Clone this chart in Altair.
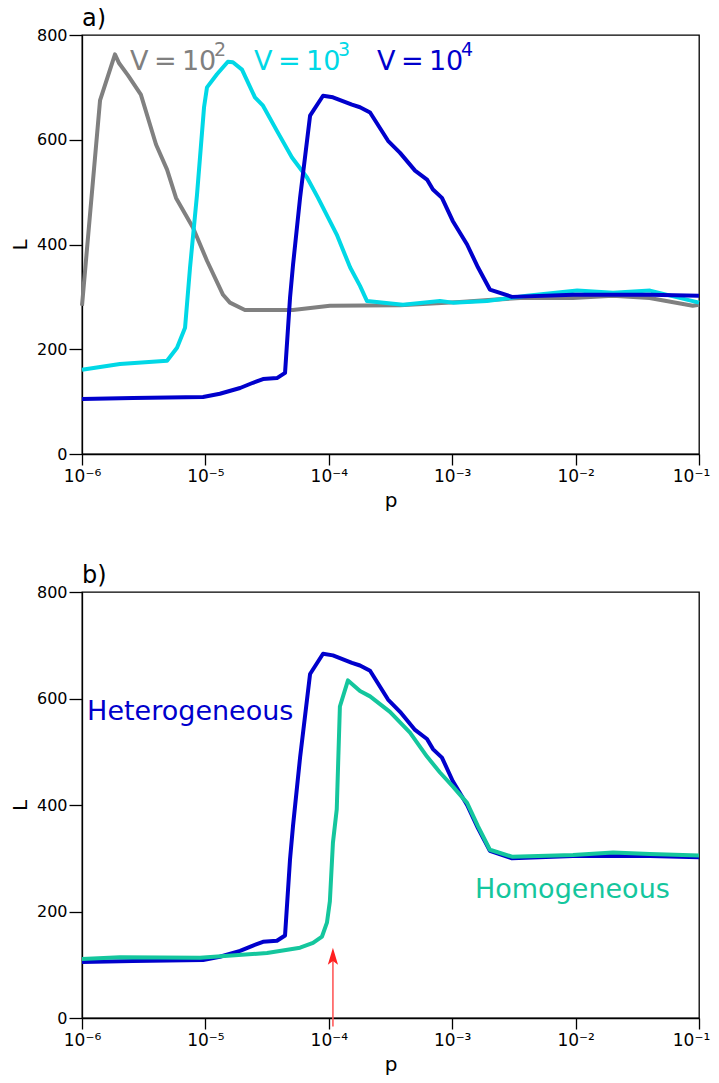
import altair as alt
import pandas as pd

FONT = "DejaVu Sans"

# ---------------- panel a) ----------------
v2_p = [1.0e-6, 1.4e-6, 1.85e-6, 2.0e-6, 2.36e-6, 3.0e-6, 3.98e-6, 4.89e-6, 5.78e-6,
        7.94e-6, 1.03e-5, 1.39e-5, 1.58e-5, 2.09e-5, 5.13e-5, 1.02e-4, 3.78e-4,
        1.15e-3, 3.55e-3, 9.55e-3, 2.0e-2, 3.98e-2, 8.9e-2, 1.0e-1]
v2_L = [283, 675, 763, 746, 723, 686, 591, 543, 489,
        432, 369, 304, 289, 275, 275, 283, 284,
        290, 298, 298, 302, 298, 283, 285]

v3_p = [1.0e-6, 2.03e-6, 4.89e-6, 5.89e-6, 6.84e-6, 7.5e-6, 8.55e-6, 9.75e-6, 1.03e-5,
        1.24e-5, 1.52e-5, 1.67e-5, 1.98e-5, 2.52e-5, 2.93e-5, 3.80e-5, 5.03e-5,
        6.66e-5, 8.18e-5, 1.16e-4, 1.49e-4, 1.79e-4, 2.04e-4, 3.99e-4, 7.96e-4,
        1.01e-3, 1.91e-3, 4.04e-3, 1.03e-2, 2.01e-2, 4.01e-2, 1.0e-1]
v3_L = [161, 172, 178, 203, 241, 355, 495, 662, 700,
        725, 749, 748, 734, 681, 665, 617, 566,
        528, 489, 419, 356, 321, 292, 285, 292,
        289, 292, 302, 312, 308, 312, 289]

v4_p = [1.0e-6, 2.59e-6, 9.57e-6, 1.31e-5, 1.91e-5, 2.43e-5, 2.93e-5, 3.80e-5, 4.42e-5,
        4.85e-5, 5.13e-5, 5.85e-5, 7.05e-5, 8.98e-5, 1.08e-4, 1.54e-4, 1.79e-4,
        2.16e-4, 3.02e-4, 3.78e-4, 5.00e-4, 6.25e-4, 6.98e-4, 8.26e-4, 1.01e-3,
        1.32e-3, 1.62e-3, 2.02e-3, 3.05e-3, 9.53e-3, 4.01e-2, 1.0e-1]
v4_L = [105, 107, 109, 115, 126, 136, 143, 145, 155,
        298, 361, 489, 646, 684, 681, 667, 662,
        652, 598, 575, 541, 524, 505, 489, 445,
        400, 356, 314, 300, 304, 304, 302]

# ---------------- panel b) ----------------
het_p = v4_p
het_L = v4_L

hom_p = [1.0e-6, 2.03e-6, 9.04e-6, 3.16e-5, 5.85e-5, 7.45e-5, 8.81e-5, 9.66e-5, 1.02e-4,
         1.08e-4, 1.16e-4, 1.23e-4, 1.43e-4, 1.79e-4, 2.16e-4, 3.13e-4, 4.55e-4,
         6.25e-4, 7.96e-4, 1.01e-3, 1.32e-3, 1.62e-3, 2.02e-3, 3.05e-3, 9.53e-3,
         2.01e-2, 4.0e-2, 1.0e-1]
hom_L = [111, 114, 113, 122, 132, 141, 153, 179, 219,
         329, 392, 585, 634, 614, 604, 575, 536,
         491, 461, 435, 404, 360, 316, 303, 306,
         311, 308, 305]

# axis ticks
x_ticks = [1e-6, 1e-5, 1e-4, 1e-3, 1e-2, 1e-1]
x_tick_labels = ["10⁻⁶", "10⁻⁵", "10⁻⁴", "10⁻³", "10⁻²", "10⁻¹"]
y_ticks = [0, 200, 400, 600, 800]

# series labels (panel a)
lab_series = ["V2", "V3", "V4"]
lab_text = ["V\u2009=\u200910", "V\u2009=\u200910", "V\u2009=\u200910"]
lab_sup = ["2", "3", "4"]
lab_p = [2.45e-6, 2.48e-5, 2.46e-4]
lab_L = [734, 734, 734]

# panel b labels
b_lab_series = ["Heterogeneous", "Homogeneous"]
b_lab_p = [1.1e-6, 1.53e-3]
b_lab_L = [560, 226]

# arrow (panel b)
arrow_p = [1.08e-4]
arrow_L0 = [-16]
arrow_L1 = [112]
arrow_head_L = [116]

panel_tags = ["a)", "b)"]

GRAY, CYAN, BLUE, GREEN, RED = "#808080", "#00d8e6", "#0000cc", "#14c69d", "#ff2020"

label_expr = "[" + ",".join("'%s'" % t for t in x_tick_labels) + "][round(log(datum.value)/LN10)+6]"


def x_enc():
    return alt.X("p:Q",
                 scale=alt.Scale(type="log", domain=[1e-6, 1e-1]),
                 axis=alt.Axis(values=x_ticks, labelExpr=label_expr, tickSize=11,
                               labelPadding=3, labelFontSize=17, title="p",
                               titleFontSize=20, titlePadding=6, labelFlush=False,
                               labelOverlap=False, grid=False,
                               labelOffset={"condition": {"test": "datum.value > 0.05",
                                                          "value": -8}, "value": 0}))


def y_enc():
    return alt.Y("L:Q",
                 scale=alt.Scale(domain=[0, 800]),
                 axis=alt.Axis(values=y_ticks, tickSize=13, labelPadding=2,
                               labelFontSize=16, title="L", titleFontSize=20,
                               titlePadding=6, grid=False))


def tag(text):
    return alt.Chart(pd.DataFrame({"t": [text]})).mark_text(
        align="left", baseline="alphabetic", fontSize=24, font=FONT, color="black"
    ).encode(text="t:N", x=alt.value(0), y=alt.value(-9))


# ---- panel a data ----
rows = []
for s, ps, Ls in [("V2", v2_p, v2_L), ("V3", v3_p, v3_L), ("V4", v4_p, v4_L)]:
    for p, L in zip(ps, Ls):
        rows.append({"series": s, "p": p, "L": L})
df_a = pd.DataFrame(rows)

lab_df = pd.DataFrame({"series": lab_series, "text": lab_text, "sup": lab_sup,
                       "p": lab_p, "L": lab_L})

color_a = alt.Color("series:N", scale=alt.Scale(domain=["V2", "V3", "V4"],
                                                range=[GRAY, CYAN, BLUE]), legend=None)

lines_a = alt.Chart(df_a).mark_line(strokeWidth=4, strokeJoin="round").encode(
    x=x_enc(), y=y_enc(), color=color_a, order="p:Q")

texts_a = alt.Chart(lab_df).mark_text(align="left", baseline="alphabetic", fontSize=27,
                                      font=FONT).encode(
    x="p:Q", y="L:Q", text="text:N", color=color_a)
sups_a = alt.Chart(lab_df).mark_text(align="left", baseline="alphabetic", fontSize=19,
                                     font=FONT, dx=84, dy=-14).encode(
    x="p:Q", y="L:Q", text="sup:N", color=color_a)

panel_a = alt.layer(lines_a, texts_a, sups_a, tag(panel_tags[0])).properties(
    width=617, height=419)

# ---- panel b data ----
rows = []
for s, ps, Ls in [("Heterogeneous", het_p, het_L), ("Homogeneous", hom_p, hom_L)]:
    for p, L in zip(ps, Ls):
        rows.append({"series": s, "p": p, "L": L})
df_b = pd.DataFrame(rows)
b_lab_df = pd.DataFrame({"series": b_lab_series, "p": b_lab_p, "L": b_lab_L})

color_b = alt.Color("series:N", scale=alt.Scale(domain=["Heterogeneous", "Homogeneous"],
                                                range=[BLUE, GREEN]), legend=None)

lines_b = alt.Chart(df_b).mark_line(strokeWidth=4, strokeJoin="round").encode(
    x=x_enc(), y=y_enc(), color=color_b, order="p:Q")
texts_b = alt.Chart(b_lab_df).mark_text(align="left", baseline="alphabetic", fontSize=27,
                                        font=FONT).encode(
    x="p:Q", y="L:Q", text="series:N", color=color_b)

arrow_df = pd.DataFrame({"p": arrow_p, "L0": arrow_L0, "L1": arrow_L1, "Lh": arrow_head_L})
arrow_line = alt.Chart(arrow_df).mark_rule(color="#ff5a5a", strokeWidth=1.6).encode(
    x="p:Q", y="L0:Q", y2="L1:Q")
arrow_head = alt.Chart(arrow_df).mark_point(
    shape="M0,-1 L0.6,1 L0,0.55 L-0.6,1 Z", filled=True, size=289, color=RED,
    opacity=1, strokeWidth=0).encode(x="p:Q", y="Lh:Q")

panel_b = alt.layer(lines_b, texts_b, arrow_line, arrow_head, tag(panel_tags[1])).properties(
    width=617, height=426)

chart = alt.vconcat(panel_a, panel_b, spacing=52).resolve_scale(color="independent").properties(
    padding={"left": 1, "top": -2, "right": 0, "bottom": 0},
    background="white"
).configure_view(stroke="black", strokeWidth=1.3).configure_axis(
    domainColor="black", tickColor="black", labelColor="black", titleColor="black",
    domainWidth=1.3, tickWidth=1.3, labelFont=FONT, titleFont=FONT,
    titleFontWeight="normal"
)

chart.save("out.html", embed_options={"renderer": "svg", "actions": False})
